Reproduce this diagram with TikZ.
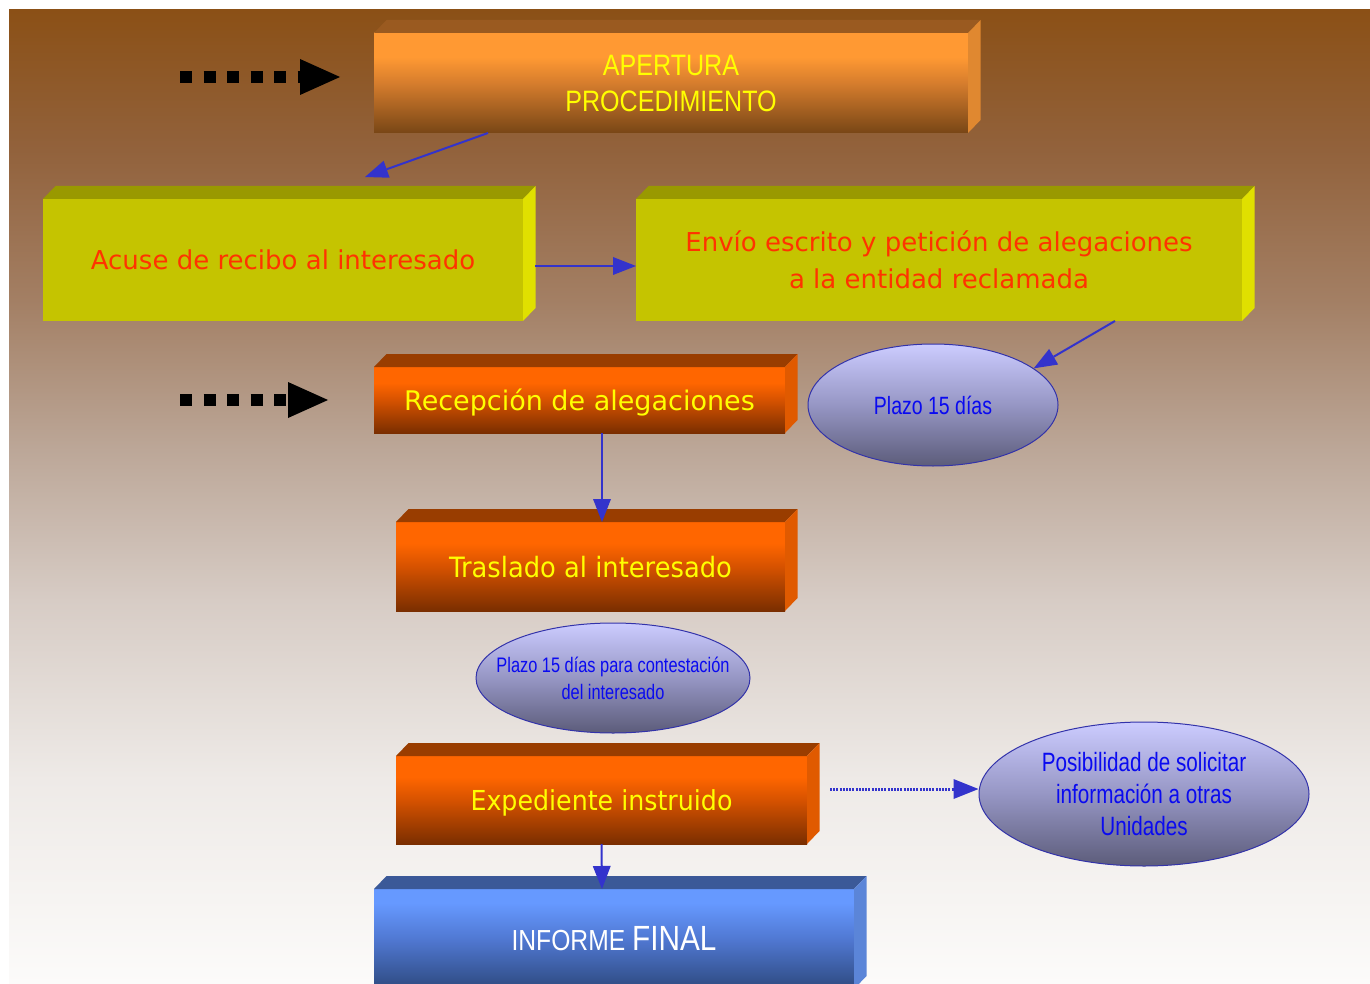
\documentclass[tikz,border=0pt]{standalone}
\usepackage{fontspec}
\setmainfont{DejaVu Sans}
\newfontfamily\boxnarrow[FakeStretch=0.92]{DejaVu Sans}
\newfontfamily\narrowfont[FakeStretch=0.78]{Liberation Sans}
\newfontfamily\capsfont[FakeStretch=0.85]{Liberation Sans}
\usetikzlibrary{shapes.geometric,arrows.meta}

% page background
\definecolor{bg1}{RGB}{139,80,22}
\definecolor{bg2}{RGB}{146,98,60}
\definecolor{bg3}{RGB}{163,127,100}
\definecolor{bg4}{RGB}{188,167,152}
\definecolor{bg5}{RGB}{215,204,197}
\definecolor{bg6}{RGB}{238,234,231}
\definecolor{bg7}{RGB}{252,251,250}
% light orange cuboid
\definecolor{oA1}{RGB}{255,153,51}
\definecolor{oA2}{RGB}{214,125,45}
\definecolor{oA3}{RGB}{120,70,22}
\definecolor{oAtop}{RGB}{154,90,32}
\definecolor{oAside}{RGB}{224,136,48}
% dark orange cuboids
\definecolor{oB1}{RGB}{255,102,0}
\definecolor{oB2}{RGB}{214,82,0}
\definecolor{oB3}{RGB}{122,46,0}
\definecolor{oBtop}{RGB}{153,61,0}
\definecolor{oBside}{RGB}{224,90,0}
% olive cuboids
\definecolor{olfront}{RGB}{197,196,0}
\definecolor{oltop}{RGB}{153,153,0}
\definecolor{olside}{RGB}{224,224,0}
% blue cuboid
\definecolor{bl1}{RGB}{102,153,255}
\definecolor{bl2}{RGB}{80,120,210}
\definecolor{bl3}{RGB}{46,74,128}
\definecolor{bltop}{RGB}{59,89,152}
\definecolor{blside}{RGB}{91,133,216}
% ovals
\definecolor{ov1}{RGB}{204,204,255}
\definecolor{ov2}{RGB}{150,150,196}
\definecolor{ov3}{RGB}{92,92,122}
\definecolor{ovline}{RGB}{51,51,170}
\definecolor{ovtext}{RGB}{10,10,240}
% connectors and texts
\definecolor{flowblue}{RGB}{51,51,204}
\definecolor{redtext}{RGB}{255,51,0}
\definecolor{yeltext}{RGB}{255,255,0}

\pgfdeclareverticalshading{pagebg}{100bp}{color(0bp)=(bg7); color(25bp)=(bg7); color(35.5bp)=(bg6); color(44.7bp)=(bg5); color(52.4bp)=(bg4); color(60.1bp)=(bg3); color(67.8bp)=(bg2); color(75bp)=(bg1); color(100bp)=(bg1)}
\pgfdeclareverticalshading{orangeA}{100bp}{color(0bp)=(oA3); color(25bp)=(oA3); color(50bp)=(oA2); color(63bp)=(oA1); color(75bp)=(oA1); color(100bp)=(oA1)}
\pgfdeclareverticalshading{orangeB}{100bp}{color(0bp)=(oB3); color(25bp)=(oB3); color(50bp)=(oB2); color(63bp)=(oB1); color(75bp)=(oB1); color(100bp)=(oB1)}
\pgfdeclareverticalshading{blueC}{100bp}{color(0bp)=(bl3); color(25bp)=(bl3); color(50bp)=(bl2); color(68bp)=(bl1); color(75bp)=(bl1); color(100bp)=(bl1)}
\pgfdeclareverticalshading{ovalfill}{100bp}{color(0bp)=(ov3); color(25bp)=(ov3); color(50bp)=(ov2); color(75bp)=(ov1); color(100bp)=(ov1)}

% top and right faces of a cuboid whose front face is node #1
\newcommand\cuboidfaces[3]{%
  \fill[#2] (#1.north west) -- ++(12.5,-13) -- ([shift={(12.5,-13)}]#1.north east) -- (#1.north east) -- cycle;
  \fill[#3] (#1.north east) -- ++(12.5,-13) -- ([shift={(12.5,-13)}]#1.south east) -- (#1.south east) -- cycle;}

\begin{document}
\begin{tikzpicture}[x=1pt,y=-1pt,
  cube/.style={inner sep=0pt, outer sep=0pt, draw=none, align=center},
  olivebox/.style={cube, fill=olfront, text=redtext, font=\fontsize{26}{37}\selectfont},
  orangebox/.style={cube, shading=orangeB, text=yeltext, text depth=0pt, font=\fontsize{27}{30}\selectfont},
  ovalnote/.style={ellipse, draw=ovline, line width=1pt, shading=ovalfill, inner xsep=-30pt,
    inner ysep=-5pt, text=ovtext, align=center},
  flow/.style={draw=flowblue, line width=2pt, -{Triangle[length=23pt,width=18pt,line width=0pt]}},
  dotflow/.style={draw=flowblue, line width=3pt, dash pattern=on 2pt off 1.2pt,
    -{Triangle[length=25pt,width=20pt,line width=0pt]}},
  lead/.style={draw=black, line width=12pt, dash pattern=on 12pt off 11.5pt,
    -{Triangle[length=40pt,width=36pt,line width=0pt]}}]

\useasboundingbox (0,0) rectangle (1370,984);
\clip (0,0) rectangle (1370,984);
\fill[white] (0,0) rectangle (1370,984);
\shade[shading=pagebg] (9,10) rectangle (1370,984);

% cuboids
\node[cube, shading=orangeA, minimum width=594pt, minimum height=100pt, text=yeltext,
  font=\capsfont\fontsize{29.5}{36}\selectfont] (apertura) at (671,83) {APERTURA\\PROCEDIMIENTO};
\cuboidfaces{apertura}{oAtop}{oAside}

\node[olivebox, text depth=0pt, minimum width=480pt, minimum height=122pt] (acuse) at (283,260)
  {Acuse de recibo al interesado};
\cuboidfaces{acuse}{oltop}{olside}

\node[olivebox, minimum width=606pt, minimum height=122pt] (envio) at (939,260)
  {Envío escrito y petición de alegaciones\\a la entidad reclamada};
\cuboidfaces{envio}{oltop}{olside}

\node[orangebox, minimum width=411pt, minimum height=66pt] (recepcion) at (579.5,400)
  {Recepción de alegaciones};
\cuboidfaces{recepcion}{oBtop}{oBside}

\node[orangebox, minimum width=389pt, minimum height=89pt, font=\boxnarrow\fontsize{28}{30}\selectfont]
  (traslado) at (590.5,566.5) {Traslado al interesado};
\cuboidfaces{traslado}{oBtop}{oBside}

\node[orangebox, minimum width=411pt, minimum height=88pt, font=\boxnarrow\fontsize{27.5}{30}\selectfont]
  (expediente) at (601.5,800) {Expediente instruido};
\cuboidfaces{expediente}{oBtop}{oBside}

\node[cube, shading=blueC, minimum width=480pt, minimum height=100pt, text=white]
  (informe) at (614,939) {\capsfont\fontsize{29}{30}\selectfont INFORME \fontsize{35}{30}\selectfont FINAL};
\cuboidfaces{informe}{bltop}{blside}

% ovals
\node[ovalnote, minimum width=250pt, minimum height=122pt, font=\narrowfont\fontsize{25}{32}\selectfont]
  (plazo1) at (933,405) {Plazo 15 días};
\node[ovalnote, minimum width=274pt, minimum height=110pt, font=\narrowfont\fontsize{21}{27}\selectfont]
  (plazo2) at (613,678) {Plazo 15 días para contestación\\del interesado};
\node[ovalnote, minimum width=330pt, minimum height=144pt, font=\narrowfont\fontsize{26.5}{32}\selectfont]
  (plazo3) at (1144,794) {Posibilidad de solicitar\\información a otras\\Unidades};

% black lead-in arrows
\coordinate (lead1s) at (180,77);
\coordinate (lead1e) at (340,77);
\coordinate (lead2s) at (180,400);
\coordinate (lead2e) at (328,400);
\draw[lead] (lead1s) -- (lead1e);
\draw[lead] (lead2s) -- (lead2e);

% flow connectors
\draw[flow] ([xshift=114pt]apertura.south west) -- ([shift={(322,-22)}]acuse.north west);
\draw[flow] ([shift={(12,6)}]acuse.east) -- ([shift={(0,6)}]envio.west);
\draw[flow] ([xshift=479pt]envio.south west) -- (plazo1.20);
\draw[flow] ([xshift=22.5pt]recepcion.south) -- ([xshift=11.5pt]traslado.north);
\draw[flow] (expediente.south) -- ([xshift=-12pt]informe.north);
\draw[dotflow] ([shift={(23,-11)}]expediente.east) -- ([yshift=5pt]plazo3.west);
\end{tikzpicture}
\end{document}
